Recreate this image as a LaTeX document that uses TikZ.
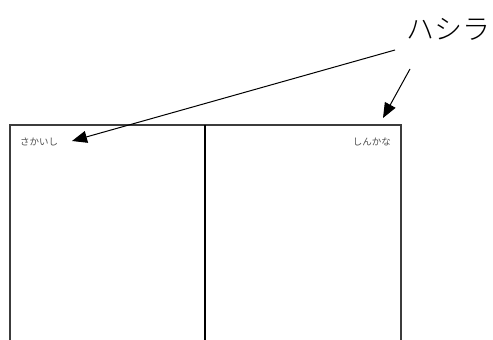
\documentclass[tikz,border=0pt]{standalone}
\usepackage{fontspec}
\newfontfamily\jp{Noto Sans CJK JP}
\newfontfamily\jplight{Noto Sans CJK JP Light}
\usetikzlibrary{arrows.meta}
\definecolor{boxgray}{HTML}{3C3C3C}
\definecolor{txtgray}{HTML}{505050}
\tikzset{
  pointer/.style={draw=black, line width=1pt, -{Triangle[length=15pt,width=12pt]}},
  smalllabel/.style={font=\jp\fontsize{9.5}{9.5}\selectfont, text=txtgray, inner sep=0pt},
  biglabel/.style={font=\jplight\fontsize{28}{28}\selectfont, inner sep=0pt}
}
\begin{document}
\begin{tikzpicture}[x=1pt,y=-1pt]
\useasboundingbox (0,0) rectangle (493,340);
\begin{scope}
\clip (0,0) rectangle (493,340);
\draw[boxgray, line width=1.6pt] (10,345) -- (10,125) -- (401,125) -- (401,345);
\draw[black, line width=2pt] (205,125) -- (205,345);
\end{scope}
\node[biglabel] (title) at (448,29) {ハシラ};
\node[smalllabel, anchor=west] (left) at (20,142) {さかいし};
\node[smalllabel, anchor=east] (right) at (391,142) {しんかな};
\coordinate (s1) at (395,50);
\coordinate (t1) at (72,141);
\coordinate (s2) at (410,69);
\coordinate (t2) at (383,118);
\draw[pointer] (s1) -- (t1);
\draw[pointer] (s2) -- (t2);
\end{tikzpicture}
\end{document}
